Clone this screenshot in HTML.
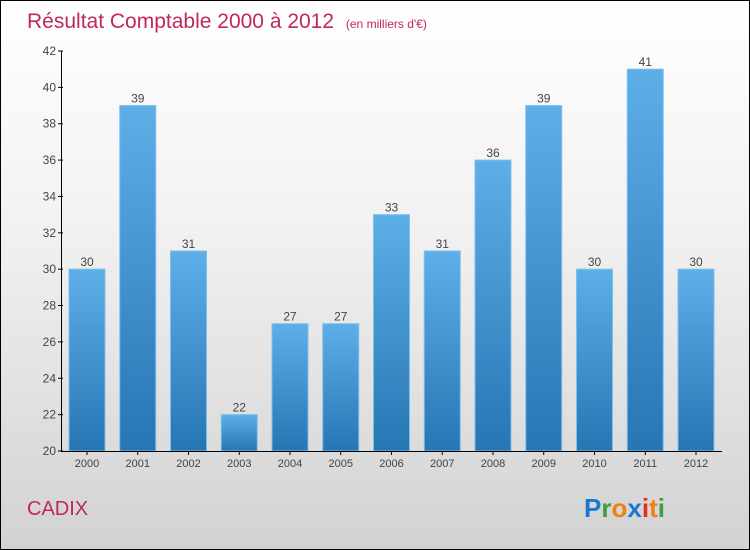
<!DOCTYPE html>
<html><head><meta charset="utf-8"><style>
body{margin:0}
#c{width:748px;height:548px;border:1px solid #000;background:linear-gradient(#ffffff,#f2f2f2 40%,#d2d2d2);position:relative;font-family:"Liberation Sans",sans-serif}
svg{position:absolute;left:0;top:0}
</style></head><body>
<div id="c">
<svg width="748" height="548" id="s">
<defs><linearGradient id="g" x1="0" y1="0" x2="0" y2="1"><stop offset="0" stop-color="#5eaee8"/><stop offset="1" stop-color="#2776b4"/></linearGradient></defs>
<text x="26" y="27" font-size="21" fill="#c0285a">Résultat Comptable 2000 à 2012 <tspan font-size="12" dx="6">(en milliers d'€)</tspan></text>
<text x="26" y="514" font-size="20" fill="#c0285a">CADIX</text>
<g font-size="26" font-weight="bold">
<text x="583" y="516"><tspan fill="#1a78d0">P</tspan><tspan fill="#3aa040">r</tspan><tspan fill="#f08010">o</tspan><tspan fill="#1a78d0">x</tspan><tspan fill="#e03020">i</tspan><tspan fill="#f08010">t</tspan><tspan fill="#3aa040">i</tspan></text></g>
</svg></div>
<script>
const categories=["2000","2001","2002","2003","2004","2005","2006","2007","2008","2009","2010","2011","2012"];
const values=[30,39,31,22,27,27,33,31,36,39,30,41,30];
const yTicks=[20,22,24,26,28,30,32,34,36,38,40,42];
const s=document.getElementById('s');const NS='http://www.w3.org/2000/svg';
const y=v=>450-(v-20)*400/22;const x=i=>86+i*50.75;
function mk(t,a,txt){const e=document.createElementNS(NS,t);for(const k in a)e.setAttribute(k,a[k]);if(txt!=null)e.textContent=txt;s.appendChild(e);return e;}
values.forEach((v,i)=>{
const r=mk('rect',{x:x(i)-18,y:y(v),width:36,height:450-y(v),fill:'url(#g)',stroke:'#7cc0ee','stroke-width':1});


const l=mk('text',{x:x(i),y:y(v)-3,'font-size':12,fill:'#444','text-anchor':'middle'},v);


const c=mk('text',{x:x(i),y:466,'font-size':11,fill:'#444','text-anchor':'middle'},categories[i]);


mk('line',{x1:x(i),x2:x(i),y1:450,y2:454,stroke:'#000'});
});
yTicks.forEach(t=>{
mk('line',{x1:57,x2:62,y1:y(t),y2:y(t),stroke:'#000'});
const l=mk('text',{x:55,y:y(t)+4,'font-size':12,fill:'#444','text-anchor':'end'},t);


});
const ya=mk('line',{x1:60.5,x2:60.5,y1:50,y2:450,stroke:'#000'});


const xa=mk('line',{x1:60,x2:721,y1:450.5,y2:450.5,stroke:'#000'});


</script>
</body></html>
